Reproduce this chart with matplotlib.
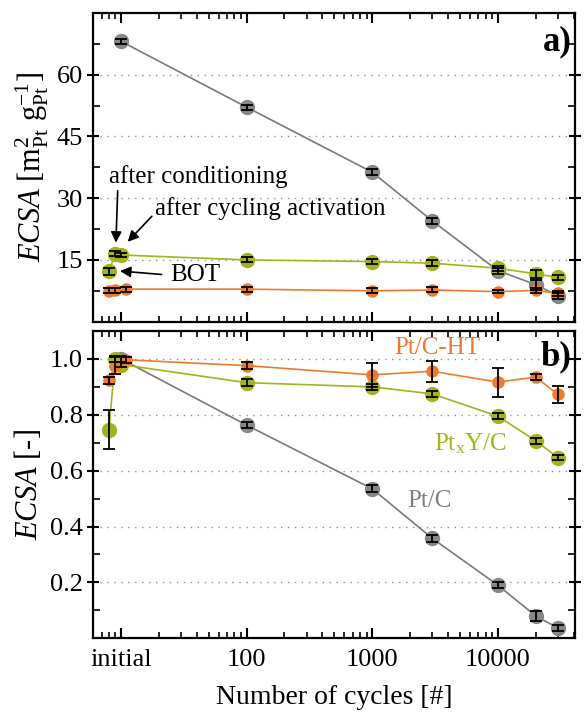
import numpy as np
import matplotlib.pyplot as plt
from matplotlib.ticker import FixedLocator, LogLocator, NullFormatter

plt.rcParams['font.family'] = ['Liberation Serif', 'DejaVu Serif']
plt.rcParams['mathtext.fontset'] = 'custom'
plt.rcParams['mathtext.rm'] = 'Liberation Serif'
plt.rcParams['mathtext.it'] = 'Liberation Serif:italic'
plt.rcParams['mathtext.bf'] = 'Liberation Serif:bold'

# cycle numbers (initial points placed around 10 on the log axis)
x_ptc = [10, 100, 1000, 3000, 10000, 20000, 30000]
x_pty = [8, 9, 10, 100, 1000, 3000, 10000, 20000, 30000]
x_ht = [8, 9, 11, 100, 1000, 3000, 10000, 20000, 30000]

# panel a: absolute ECSA
a_ptc = [68.1, 52.1, 36.3, 24.5, 12.4, 9.0, 6.3]
a_ptc_err = [0.6, 0.6, 0.7, 0.7, 0.7, 1.2, 0.7]
a_pty = [12.2, 16.5, 16.2, 15.0, 14.6, 14.2, 13.0, 11.6, 10.8]
a_pty_err = [0.8, 0.6, 0.6, 0.6, 0.7, 0.7, 0.6, 0.9, 0.6]
a_ht = [7.5, 7.6, 7.9, 7.9, 7.5, 7.7, 7.3, 7.6, 6.9]
a_ht_err = [0.6, 0.6, 0.6, 0.6, 0.6, 0.6, 0.4, 0.6, 0.6]

# panel b: normalised ECSA
b_ptc = [1.0, 0.763, 0.535, 0.358, 0.19, 0.08, 0.037]
b_ptc_err = [0.01, 0.01, 0.012, 0.012, 0.01, 0.017, 0.012]
b_pty = [0.747, 1.0, 0.98, 0.915, 0.90, 0.875, 0.795, 0.707, 0.647]
b_pty_err = [0.07, 0.01, 0.01, 0.012, 0.012, 0.01, 0.01, 0.01, 0.01]
b_ht = [0.924, 0.976, 0.997, 0.976, 0.943, 0.956, 0.917, 0.935, 0.873]
b_ht_err = [0.012, 0.03, 0.01, 0.012, 0.043, 0.037, 0.052, 0.012, 0.03]

c_ptc = '#878787'
c_pty = '#a2b41a'
c_ht = '#ef7a2c'

x_ticks = [10, 100, 1000, 10000]
x_labels = ['initial', '100', '1000', '10000']

fig = plt.figure(figsize=(5.86, 7.18), dpi=100)
ax1 = fig.add_axes([0.159, 0.552, 0.822, 0.430])
ax2 = fig.add_axes([0.159, 0.111, 0.822, 0.428])


def series(ax, x, y, err, col, ms, lcol):
    ax.plot(x, y, '-', color=lcol, lw=1.2, zorder=2)
    ax.plot(x, y, 'o', color=col, ms=ms, mec=col, zorder=3)
    ax.errorbar(x, y, yerr=err, fmt='none', ecolor='black', elinewidth=1.3,
                capsize=4.5, capthick=1.3, zorder=4)


for ax in (ax1, ax2):
    ax.set_xscale('log')
    ax.set_xlim(6, 41000)
    ax.xaxis.set_major_locator(FixedLocator(x_ticks))
    ax.xaxis.set_minor_locator(LogLocator(base=10, subs=np.arange(2, 10)))
    ax.xaxis.set_minor_formatter(NullFormatter())
    ax.tick_params(which='both', top=True, right=True, labelsize=19)
    ax.tick_params(axis='x', which='major', direction='in', length=7, width=1.5)
    ax.tick_params(axis='x', which='minor', direction='in', length=4, width=1.2)
    ax.tick_params(axis='y', which='major', direction='inout', length=9, width=1.5, pad=3)
    ax.tick_params(axis='y', which='minor', direction='in', length=5, width=1.2)
    for s in ax.spines.values():
        s.set_linewidth(1.6)
    ax.grid(axis='y', which='major', ls=(0, (1, 4)), color='#909090', lw=1.0)

# panel a
series(ax1, x_ptc, a_ptc, a_ptc_err, c_ptc, 10, '#7a7a7a')
series(ax1, x_pty, a_pty, a_pty_err, c_pty, 10, c_pty)
series(ax1, x_ht, a_ht, a_ht_err, c_ht, 8, c_ht)
ax1.set_ylim(0, 75)
ax1.yaxis.set_major_locator(FixedLocator([15, 30, 45, 60]))
ax1.yaxis.set_minor_locator(FixedLocator([7.5, 22.5, 37.5, 52.5, 67.5]))
ax1.set_xticklabels([])
ax1.set_ylabel(r'$ECSA$ [m$^2_\mathrm{Pt}$ g$^{-1}_\mathrm{Pt}$]', fontsize=22, labelpad=4)
ax1.text(0.993, 0.905, 'a)', transform=ax1.transAxes, ha='right', va='center',
         fontsize=25, fontweight='bold')
ax1.annotate('after conditioning', xy=(9.1, 19.2), xytext=(8.0, 35.3), fontsize=18,
             ha='left', va='center',
             arrowprops=dict(arrowstyle='-|>', color='black', lw=1.2, mutation_scale=16,
                             shrinkA=0, shrinkB=0, relpos=(0.05, 0.0)))
ax1.annotate('after cycling activation', xy=(11.3, 19.4), xytext=(18.5, 27.4), fontsize=18,
             ha='left', va='center',
             arrowprops=dict(arrowstyle='-|>', color='black', lw=1.2, mutation_scale=16,
                             shrinkA=0, shrinkB=0, relpos=(-0.01, 0.2)))
ax1.annotate('BOT', xy=(9.8, 12.3), xytext=(24.5, 11.3), fontsize=18,
             ha='left', va='center',
             arrowprops=dict(arrowstyle='-|>', color='black', lw=1.2, mutation_scale=16,
                             shrinkA=4, shrinkB=0, relpos=(0.0, 0.5)))

# panel b
series(ax2, x_ptc, b_ptc, b_ptc_err, c_ptc, 10, '#7a7a7a')
series(ax2, x_pty, b_pty, b_pty_err, c_pty, 10, c_pty)
series(ax2, x_ht, b_ht, b_ht_err, c_ht, 8, c_ht)
ax2.set_ylim(0, 1.1)
ax2.yaxis.set_major_locator(FixedLocator([0.2, 0.4, 0.6, 0.8, 1.0]))
ax2.yaxis.set_minor_locator(FixedLocator([0.1, 0.3, 0.5, 0.7, 0.9]))
ax2.set_xticklabels(x_labels)
ax2.tick_params(axis='x', which='major', pad=8)
ax2.set_ylabel(r'$ECSA$ [-]', fontsize=22, labelpad=4)
ax2.set_xlabel('Number of cycles [#]', fontsize=20, labelpad=10)
ax2.text(0.993, 0.915, 'b)', transform=ax2.transAxes, ha='right', va='center',
         fontsize=25, fontweight='bold')
ax2.text(1500, 1.04, 'Pt/C-HT', color=c_ht, fontsize=18, ha='left', va='center')
ax2.text(3100, 0.695, r'Pt$_\mathrm{x}$Y/C', color=c_pty, fontsize=18, ha='left', va='center')
ax2.text(1900, 0.49, 'Pt/C', color='#808080', fontsize=18, ha='left', va='center')

fig.savefig('out.png', dpi=100)
